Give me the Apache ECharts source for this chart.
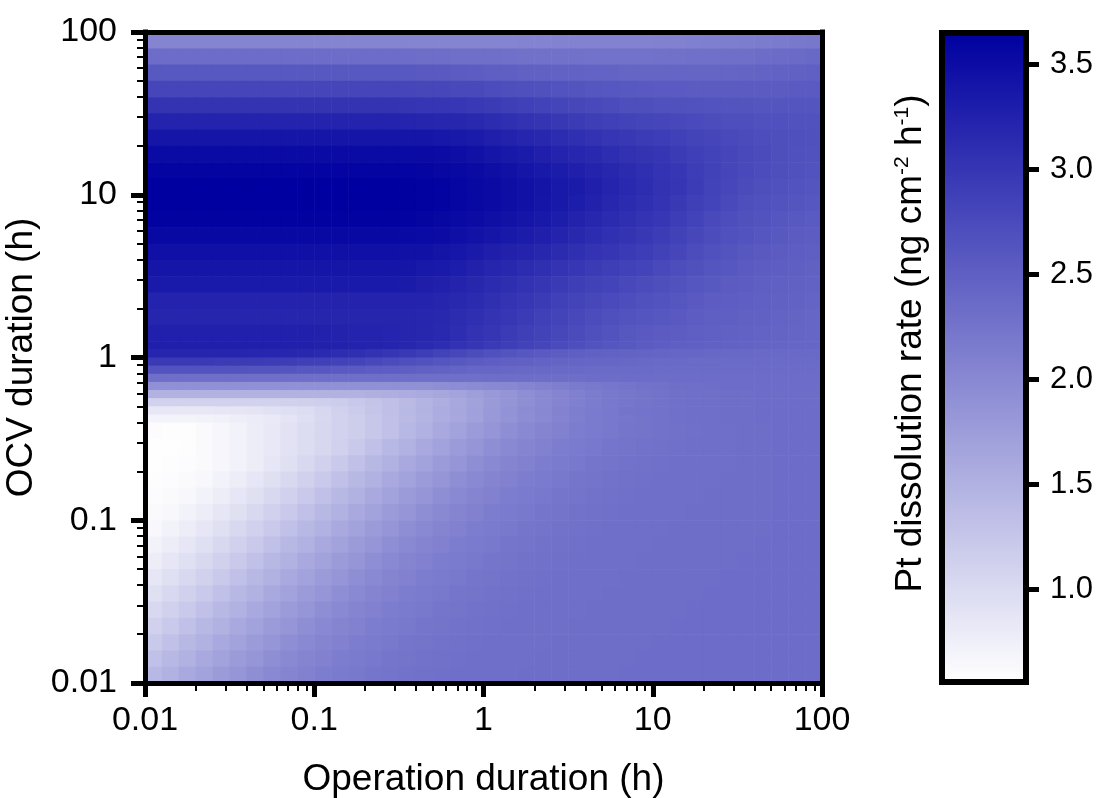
<!DOCTYPE html>
<html>
<head>
<meta charset="utf-8">
<title>Pt dissolution rate map</title>
<script src="https://cdn.jsdelivr.net/npm/echarts@6/dist/echarts.min.js"></script>
<style>
  html, body { margin: 0; padding: 0; background: #fff; }
  #main { width: 1102px; height: 798px; }
</style>
</head>
<body>
<div id="main"></div>
<script>
// cell edges as log10 of the duration in hours
var opEdgeExp = [-2, -1.9, -1.8, -1.7, -1.6, -1.5, -1.4, -1.3, -1.2, -1.1, -1, -0.9, -0.8, -0.7, -0.6, -0.5, -0.4, -0.3, -0.2, -0.1,
  0, 0.1, 0.2, 0.3, 0.4, 0.5, 0.6, 0.7, 0.8, 0.9, 1, 1.1, 1.2, 1.3, 1.4, 1.5, 1.6, 1.7, 1.8, 1.9, 2];
var ocvEdgeExp = [2, 1.9, 1.8, 1.7, 1.6, 1.5, 1.4, 1.3, 1.2, 1.1, 1, 0.9, 0.8, 0.7, 0.6, 0.5, 0.4, 0.3, 0.2, 0.1,
  0.05, 0, -0.05, -0.1, -0.15, -0.2, -0.25, -0.3, -0.35, -0.4,
  -0.5, -0.6, -0.7, -0.8, -0.9, -1, -1.1, -1.2, -1.3, -1.4, -1.5, -1.6, -1.7, -1.8, -1.9, -2];

// Pt dissolution rate (ng cm-2 h-1): one row per OCV band (top first), 40 operation bands per row
var rateTop = [
  [2.05,2.05,2.05,2.05,2.05,2.05,2.05,2.05,2.05,2.05,2.05,2.05,2.05,2.05,2.05,2.05,2.05,2.05,2.05,2.05,2.05,2.05,2.06,2.06,2.07,2.07,2.07,2.07,2.08,2.08,2.09,2.09,2.10,2.11,2.12,2.13,2.15,2.17,2.19,2.21],
  [2.33,2.33,2.33,2.33,2.33,2.33,2.33,2.33,2.33,2.33,2.33,2.33,2.33,2.33,2.33,2.33,2.32,2.32,2.31,2.31,2.30,2.29,2.28,2.28,2.28,2.28,2.27,2.27,2.27,2.27,2.28,2.28,2.29,2.29,2.30,2.31,2.33,2.35,2.37,2.39],
  [2.58,2.58,2.58,2.58,2.58,2.58,2.58,2.58,2.58,2.58,2.58,2.58,2.58,2.58,2.58,2.58,2.57,2.57,2.55,2.54,2.51,2.50,2.48,2.48,2.46,2.46,2.45,2.45,2.43,2.43,2.43,2.43,2.43,2.43,2.43,2.44,2.45,2.46,2.47,2.49],
  [2.80,2.80,2.80,2.80,2.80,2.80,2.80,2.80,2.80,2.80,2.80,2.80,2.80,2.80,2.80,2.80,2.79,2.79,2.77,2.76,2.73,2.71,2.69,2.67,2.65,2.63,2.61,2.59,2.58,2.57,2.56,2.56,2.55,2.55,2.55,2.55,2.55,2.55,2.56,2.56],
  [3.02,3.02,3.02,3.02,3.02,3.02,3.02,3.02,3.02,3.02,3.02,3.02,3.02,3.02,3.02,3.01,3.00,2.99,2.98,2.96,2.93,2.90,2.87,2.84,2.81,2.79,2.76,2.74,2.71,2.70,2.68,2.67,2.66,2.64,2.63,2.63,2.62,2.62,2.62,2.62],
  [3.22,3.22,3.22,3.22,3.22,3.22,3.22,3.22,3.22,3.22,3.22,3.22,3.22,3.22,3.22,3.21,3.20,3.19,3.18,3.15,3.12,3.08,3.05,3.01,2.97,2.93,2.90,2.87,2.84,2.81,2.80,2.78,2.75,2.73,2.71,2.70,2.68,2.68,2.66,2.66],
  [3.40,3.40,3.40,3.40,3.40,3.40,3.40,3.40,3.40,3.40,3.40,3.40,3.40,3.40,3.40,3.40,3.39,3.37,3.35,3.32,3.28,3.24,3.20,3.16,3.12,3.08,3.04,3.00,2.97,2.94,2.91,2.87,2.83,2.80,2.77,2.74,2.72,2.70,2.69,2.67],
  [3.53,3.53,3.53,3.53,3.53,3.53,3.53,3.53,3.53,3.53,3.53,3.53,3.53,3.53,3.53,3.53,3.52,3.50,3.48,3.45,3.40,3.36,3.32,3.28,3.23,3.19,3.15,3.11,3.06,3.02,2.99,2.94,2.89,2.84,2.80,2.77,2.74,2.71,2.68,2.66],
  [3.60,3.60,3.60,3.60,3.60,3.60,3.60,3.60,3.60,3.60,3.60,3.60,3.60,3.60,3.60,3.60,3.59,3.57,3.55,3.52,3.48,3.44,3.40,3.36,3.31,3.27,3.22,3.18,3.13,3.08,3.03,2.98,2.91,2.86,2.80,2.76,2.73,2.70,2.67,2.65],
  [3.65,3.65,3.65,3.65,3.65,3.65,3.65,3.65,3.65,3.65,3.65,3.65,3.65,3.65,3.65,3.64,3.63,3.61,3.58,3.55,3.52,3.48,3.45,3.41,3.36,3.32,3.27,3.21,3.15,3.10,3.05,2.99,2.92,2.85,2.79,2.74,2.71,2.68,2.65,2.62],
  [3.65,3.65,3.65,3.65,3.65,3.65,3.65,3.65,3.65,3.65,3.65,3.65,3.65,3.65,3.65,3.64,3.63,3.61,3.58,3.55,3.52,3.48,3.44,3.40,3.35,3.30,3.25,3.19,3.13,3.08,3.03,2.96,2.89,2.82,2.76,2.71,2.68,2.65,2.62,2.59],
  [3.62,3.62,3.62,3.62,3.62,3.62,3.62,3.62,3.62,3.62,3.62,3.62,3.62,3.62,3.62,3.61,3.59,3.57,3.54,3.50,3.47,3.43,3.39,3.35,3.30,3.24,3.19,3.13,3.08,3.03,2.98,2.91,2.84,2.77,2.72,2.67,2.64,2.61,2.58,2.56],
  [3.55,3.55,3.55,3.55,3.55,3.55,3.55,3.55,3.55,3.55,3.55,3.55,3.55,3.55,3.55,3.54,3.53,3.50,3.47,3.43,3.39,3.35,3.31,3.27,3.22,3.17,3.12,3.07,3.02,2.97,2.92,2.86,2.79,2.73,2.68,2.64,2.61,2.58,2.55,2.53],
  [3.46,3.46,3.46,3.46,3.46,3.46,3.46,3.46,3.46,3.46,3.46,3.46,3.46,3.46,3.46,3.45,3.44,3.41,3.38,3.34,3.29,3.25,3.22,3.18,3.13,3.08,3.03,2.99,2.95,2.91,2.86,2.80,2.73,2.68,2.63,2.60,2.57,2.55,2.52,2.50],
  [3.40,3.40,3.40,3.40,3.40,3.40,3.40,3.40,3.40,3.40,3.40,3.40,3.40,3.40,3.40,3.39,3.36,3.33,3.30,3.25,3.20,3.16,3.12,3.08,3.03,2.98,2.94,2.90,2.86,2.82,2.77,2.72,2.67,2.62,2.59,2.56,2.54,2.52,2.50,2.48],
  [3.33,3.33,3.33,3.33,3.33,3.33,3.33,3.33,3.33,3.33,3.33,3.33,3.33,3.33,3.33,3.32,3.29,3.26,3.22,3.18,3.13,3.09,3.04,3.00,2.95,2.90,2.86,2.82,2.78,2.74,2.70,2.66,2.61,2.58,2.55,2.53,2.51,2.49,2.48,2.46],
  [3.23,3.23,3.23,3.23,3.23,3.23,3.23,3.23,3.23,3.23,3.23,3.23,3.23,3.23,3.23,3.23,3.22,3.20,3.17,3.13,3.08,3.03,2.98,2.93,2.88,2.83,2.79,2.75,2.72,2.68,2.65,2.61,2.57,2.54,2.52,2.50,2.49,2.47,2.46,2.44],
  [3.20,3.20,3.20,3.20,3.20,3.20,3.20,3.20,3.20,3.20,3.20,3.20,3.20,3.20,3.20,3.20,3.19,3.16,3.12,3.08,3.03,2.98,2.93,2.88,2.83,2.78,2.73,2.69,2.65,2.62,2.59,2.57,2.54,2.51,2.50,2.48,2.47,2.45,2.44,2.42],
  [3.26,3.26,3.26,3.26,3.26,3.26,3.26,3.26,3.26,3.26,3.25,3.24,3.23,3.22,3.21,3.20,3.18,3.15,3.10,3.04,2.99,2.94,2.89,2.84,2.79,2.74,2.69,2.65,2.60,2.57,2.55,2.53,2.51,2.49,2.48,2.46,2.45,2.44,2.43,2.42]
];

// the sharp step just below OCV = 1 h
var rateStep = [
  [3.28,3.28,3.28,3.28,3.28,3.28,3.27,3.27,3.26,3.26,3.25,3.25,3.24,3.22,3.21,3.18,3.14,3.10,3.05,3.00,2.95,2.90,2.85,2.80,2.75,2.70,2.65,2.61,2.58,2.55,2.52,2.50,2.49,2.47,2.46,2.45,2.44,2.43,2.42,2.42],
  [3.20,3.20,3.20,3.20,3.20,3.20,3.19,3.19,3.18,3.16,3.14,3.11,3.08,3.04,3.00,2.96,2.91,2.85,2.79,2.73,2.68,2.63,2.59,2.56,2.53,2.50,2.48,2.46,2.45,2.44,2.43,2.42,2.41,2.40,2.39,2.39,2.38,2.38,2.38,2.38],
  [2.95,2.95,2.95,2.95,2.94,2.94,2.93,2.92,2.91,2.89,2.87,2.85,2.82,2.78,2.74,2.70,2.66,2.62,2.58,2.55,2.52,2.49,2.47,2.45,2.44,2.43,2.42,2.41,2.40,2.39,2.38,2.38,2.37,2.37,2.36,2.36,2.36,2.36,2.36,2.36],
  [2.65,2.65,2.65,2.65,2.64,2.64,2.63,2.63,2.62,2.60,2.59,2.57,2.56,2.54,2.52,2.50,2.48,2.46,2.44,2.42,2.41,2.40,2.39,2.39,2.38,2.38,2.37,2.37,2.36,2.36,2.35,2.35,2.35,2.35,2.34,2.34,2.34,2.34,2.34,2.34],
  [2.30,2.30,2.30,2.30,2.30,2.30,2.30,2.30,2.30,2.30,2.30,2.30,2.30,2.30,2.30,2.30,2.30,2.31,2.31,2.31,2.32,2.32,2.32,2.32,2.32,2.32,2.33,2.33,2.33,2.33,2.33,2.33,2.33,2.33,2.33,2.33,2.33,2.33,2.33,2.33],
  [1.90,1.90,1.90,1.90,1.90,1.90,1.90,1.90,1.90,1.90,1.90,1.90,1.90,1.90,1.90,1.90,1.91,1.93,1.94,1.96,1.99,2.02,2.05,2.09,2.12,2.16,2.19,2.22,2.25,2.27,2.28,2.30,2.31,2.32,2.33,2.33,2.33,2.33,2.33,2.33],
  [1.50,1.50,1.50,1.50,1.50,1.50,1.50,1.50,1.50,1.50,1.50,1.50,1.51,1.53,1.54,1.56,1.59,1.63,1.68,1.73,1.80,1.86,1.93,1.99,2.05,2.10,2.15,2.19,2.22,2.25,2.27,2.29,2.30,2.31,2.32,2.32,2.33,2.33,2.33,2.33],
  [1.10,1.10,1.10,1.10,1.10,1.10,1.10,1.11,1.12,1.13,1.15,1.18,1.23,1.28,1.34,1.40,1.47,1.54,1.62,1.70,1.78,1.86,1.93,1.99,2.05,2.10,2.15,2.19,2.22,2.25,2.27,2.29,2.30,2.31,2.32,2.32,2.33,2.33,2.33,2.33],
  [0.85,0.85,0.85,0.85,0.86,0.87,0.89,0.92,0.95,0.99,1.05,1.12,1.19,1.26,1.33,1.41,1.48,1.56,1.63,1.71,1.80,1.88,1.95,2.01,2.07,2.12,2.17,2.20,2.24,2.26,2.27,2.29,2.30,2.31,2.32,2.32,2.33,2.33,2.33,2.33],
  [0.70,0.70,0.71,0.72,0.73,0.76,0.79,0.83,0.89,0.95,1.03,1.10,1.17,1.24,1.32,1.40,1.47,1.55,1.62,1.70,1.79,1.87,1.94,2.00,2.06,2.11,2.16,2.20,2.22,2.25,2.27,2.29,2.30,2.31,2.32,2.32,2.33,2.33,2.33,2.33]
];

// short OCV: white pocket and diagonal bands
var rateLow = [
  [0.60,0.58,0.59,0.62,0.67,0.72,0.78,0.84,0.91,0.97,1.04,1.11,1.17,1.24,1.32,1.42,1.50,1.60,1.69,1.77,1.85,1.93,1.99,2.05,2.09,2.13,2.17,2.20,2.23,2.25,2.27,2.28,2.29,2.30,2.31,2.32,2.32,2.33,2.33,2.33],
  [0.57,0.57,0.59,0.62,0.67,0.72,0.78,0.84,0.91,0.97,1.04,1.12,1.22,1.32,1.42,1.50,1.60,1.69,1.77,1.85,1.93,1.99,2.05,2.09,2.13,2.17,2.20,2.23,2.25,2.27,2.28,2.29,2.30,2.30,2.31,2.32,2.32,2.33,2.33,2.33],
  [0.57,0.58,0.60,0.62,0.67,0.72,0.78,0.86,0.94,1.03,1.12,1.22,1.32,1.42,1.50,1.60,1.69,1.77,1.85,1.93,1.99,2.05,2.09,2.13,2.17,2.20,2.23,2.25,2.27,2.28,2.29,2.30,2.30,2.31,2.31,2.32,2.32,2.33,2.33,2.33],
  [0.58,0.60,0.62,0.66,0.72,0.78,0.86,0.94,1.03,1.12,1.22,1.32,1.42,1.50,1.60,1.69,1.77,1.85,1.93,1.99,2.05,2.09,2.13,2.17,2.20,2.23,2.25,2.27,2.28,2.29,2.30,2.30,2.31,2.31,2.32,2.32,2.32,2.33,2.33,2.33],
  [0.60,0.62,0.66,0.72,0.78,0.86,0.94,1.03,1.12,1.22,1.32,1.42,1.50,1.60,1.69,1.77,1.85,1.93,1.99,2.05,2.09,2.13,2.17,2.20,2.23,2.25,2.27,2.28,2.29,2.30,2.30,2.31,2.31,2.32,2.32,2.32,2.32,2.33,2.33,2.33],
  [0.62,0.66,0.72,0.78,0.86,0.94,1.03,1.12,1.22,1.32,1.42,1.50,1.60,1.69,1.77,1.85,1.93,1.99,2.05,2.09,2.13,2.17,2.20,2.23,2.25,2.27,2.28,2.29,2.30,2.30,2.31,2.31,2.32,2.32,2.32,2.32,2.32,2.33,2.33,2.33],
  [0.66,0.72,0.78,0.86,0.94,1.03,1.12,1.22,1.32,1.42,1.50,1.60,1.69,1.77,1.85,1.93,1.99,2.05,2.09,2.13,2.17,2.20,2.23,2.25,2.27,2.28,2.29,2.30,2.30,2.31,2.31,2.32,2.32,2.32,2.32,2.32,2.32,2.33,2.33,2.33],
  [0.72,0.78,0.86,0.94,1.03,1.12,1.22,1.32,1.42,1.50,1.60,1.69,1.77,1.85,1.93,1.99,2.05,2.09,2.13,2.17,2.20,2.23,2.25,2.27,2.28,2.29,2.30,2.30,2.31,2.31,2.32,2.32,2.32,2.32,2.32,2.32,2.33,2.33,2.33,2.33],
  [0.78,0.86,0.94,1.03,1.12,1.22,1.32,1.42,1.50,1.60,1.69,1.77,1.85,1.93,1.99,2.05,2.09,2.13,2.17,2.20,2.23,2.25,2.27,2.28,2.29,2.30,2.30,2.31,2.31,2.32,2.32,2.32,2.32,2.32,2.32,2.33,2.33,2.33,2.33,2.33],
  [0.86,0.94,1.03,1.12,1.22,1.32,1.42,1.50,1.60,1.69,1.77,1.85,1.93,1.99,2.05,2.09,2.13,2.17,2.20,2.23,2.25,2.27,2.28,2.29,2.30,2.30,2.31,2.31,2.32,2.32,2.32,2.32,2.32,2.32,2.33,2.33,2.33,2.33,2.33,2.33],
  [0.94,1.03,1.12,1.22,1.32,1.42,1.50,1.60,1.69,1.77,1.85,1.93,1.99,2.05,2.09,2.13,2.17,2.20,2.23,2.25,2.27,2.28,2.29,2.30,2.30,2.31,2.31,2.32,2.32,2.32,2.32,2.32,2.32,2.33,2.33,2.33,2.33,2.33,2.33,2.33],
  [1.03,1.12,1.22,1.32,1.42,1.50,1.60,1.69,1.77,1.85,1.93,1.99,2.05,2.09,2.13,2.17,2.20,2.23,2.25,2.27,2.28,2.29,2.30,2.30,2.31,2.31,2.32,2.32,2.32,2.32,2.32,2.32,2.33,2.33,2.33,2.33,2.33,2.33,2.33,2.33],
  [1.12,1.22,1.32,1.42,1.50,1.60,1.69,1.77,1.85,1.93,1.99,2.05,2.09,2.13,2.17,2.20,2.23,2.25,2.27,2.28,2.29,2.30,2.30,2.31,2.31,2.32,2.32,2.32,2.32,2.32,2.32,2.33,2.33,2.33,2.33,2.33,2.33,2.33,2.33,2.33],
  [1.22,1.32,1.42,1.50,1.60,1.69,1.77,1.85,1.93,1.99,2.05,2.09,2.13,2.17,2.20,2.23,2.25,2.27,2.28,2.29,2.30,2.30,2.31,2.31,2.32,2.32,2.32,2.32,2.32,2.32,2.33,2.33,2.33,2.33,2.33,2.33,2.33,2.33,2.33,2.33],
  [1.32,1.42,1.50,1.60,1.69,1.77,1.85,1.93,1.99,2.05,2.09,2.13,2.17,2.20,2.23,2.25,2.27,2.28,2.29,2.30,2.30,2.31,2.31,2.32,2.32,2.32,2.32,2.32,2.32,2.33,2.33,2.33,2.33,2.33,2.33,2.33,2.33,2.33,2.33,2.33],
  [1.42,1.50,1.60,1.69,1.77,1.85,1.93,1.99,2.05,2.09,2.13,2.17,2.20,2.23,2.25,2.27,2.28,2.29,2.30,2.30,2.31,2.31,2.32,2.32,2.32,2.32,2.32,2.32,2.33,2.33,2.33,2.33,2.33,2.33,2.33,2.33,2.33,2.33,2.33,2.33]
];

var decadeTicks = [0.01, 0.1, 1, 10, 100];
var minorSteps = [2, 3, 4, 5, 6, 7, 8, 9];
var barTicks = [1.0, 1.5, 2.0, 2.5, 3.0, 3.5];
var rateMin = 0.56;
var rateMax = 3.65;
var rampColors = ['#ffffff', '#0000a0'];

var FONT = 'Liberation Sans, Arial, sans-serif';

var rate = rateTop.concat(rateStep, rateLow);

// minor ticks 2..9 inside each decade
var minorTicks = [];
decadeTicks.slice(0, -1).forEach(function (d) {
  minorSteps.forEach(function (s) { minorTicks.push(+(d * s).toPrecision(6)); });
});

// one rect per band: [opFrom, opTo, ocvFrom, ocvTo, rate]
var cells = [];
for (var i = 0; i < rate.length; i++) {
  for (var j = 0; j < rate[i].length; j++) {
    cells.push([
      Math.pow(10, opEdgeExp[j]), Math.pow(10, opEdgeExp[j + 1]),
      Math.pow(10, ocvEdgeExp[i + 1]), Math.pow(10, ocvEdgeExp[i]),
      rate[i][j]
    ]);
  }
}

function fmtLog(v) { return String(+v.toPrecision(6)); }

var noShow = { show: false };

function frameAxis(grid, pos, type, min, max, width) {
  return {
    gridIndex: grid, type: type, position: pos, min: min, max: max, z: 5,
    axisLine: { show: true, onZero: false, lineStyle: { color: '#000', width: width, cap: 'square' } },
    axisTick: noShow, axisLabel: noShow, splitLine: noShow
  };
}

function logAxis(pos, extra) {
  var ax = {
    gridIndex: 0, type: 'log', logBase: 10, min: 0.01, max: 100, position: pos, z: 5,
    axisLine: { show: true, onZero: false, lineStyle: { color: '#000', width: 5, cap: 'square' } },
    axisTick: { show: true, inside: false, length: 14, lineStyle: { color: '#000', width: 5 } },
    axisLabel: { fontSize: 34, color: '#000', fontFamily: FONT, formatter: fmtLog },
    splitLine: noShow
  };
  for (var k in extra) ax[k] = extra[k];
  return ax;
}

function minorAxis(pos) {
  return {
    gridIndex: 0, type: 'log', logBase: 10, min: 0.01, max: 100, position: pos, z: 5,
    axisLine: noShow, axisLabel: noShow, splitLine: noShow,
    axisTick: { show: true, inside: false, length: 8, customValues: minorTicks, lineStyle: { color: '#000', width: 2 } }
  };
}

var myChart = echarts.init(document.getElementById('main'));
var xMain = logAxis('bottom', {
  name: 'Operation duration (h)', nameLocation: 'middle', nameGap: 78,
  nameTextStyle: { fontSize: 37, color: '#000', fontFamily: FONT }
});
xMain.axisLabel.margin = 21;
var yMain = logAxis('left', {
  name: 'OCV duration (h)', nameLocation: 'middle', nameGap: 95, nameRotate: 90,
  nameTextStyle: { fontSize: 37, color: '#000', fontFamily: FONT }
});
yMain.axisLabel.margin = 28;

var option = {
  animation: false,
  grid: [
    { left: 145, right: 280, top: 32, bottom: 115, containLabel: false, outerBoundsMode: 'none' },
    { left: 942, right: 76, top: 33, bottom: 116, containLabel: false, outerBoundsMode: 'none' }
  ],
  visualMap: {
    type: 'continuous', show: false, seriesIndex: 0, dimension: 4,
    min: rateMin, max: rateMax,
    inRange: { color: rampColors }
  },
  xAxis: [
    xMain,
    minorAxis('bottom'),
    frameAxis(0, 'top', 'log', 0.01, 100, 5),
    frameAxis(1, 'bottom', 'value', 0, 1, 6),
    frameAxis(1, 'top', 'value', 0, 1, 6)
  ],
  yAxis: [
    yMain,
    minorAxis('left'),
    frameAxis(0, 'right', 'log', 0.01, 100, 5),
    {
      gridIndex: 1, type: 'value', min: rateMin, max: rateMax, position: 'right', z: 5,
      axisLine: { show: true, onZero: false, lineStyle: { color: '#000', width: 6, cap: 'square' } },
      axisTick: { show: true, inside: false, length: 13, customValues: barTicks, lineStyle: { color: '#000', width: 5 } },
      axisLabel: {
        fontSize: 31, color: '#000', fontFamily: FONT, margin: 24, customValues: barTicks,
        formatter: function (v) { return v.toFixed(1); }
      },
      splitLine: noShow
    },
    {
      gridIndex: 1, type: 'value', min: rateMin, max: rateMax, position: 'left', z: 5,
      name: 'Pt dissolution rate (ng cm{sup|-2} h{sup|-1})',
      nameLocation: 'middle', nameGap: 13, nameRotate: 90,
      nameTextStyle: {
        fontSize: 37, color: '#000', fontFamily: FONT, padding: [0, 0, 0, 28],
        rich: { sup: { fontSize: 21, color: '#000', fontFamily: FONT, verticalAlign: 'top' } }
      },
      axisLine: { show: true, onZero: false, lineStyle: { color: '#000', width: 6, cap: 'square' } },
      axisTick: noShow, axisLabel: noShow, splitLine: noShow
    }
  ],
  series: [
    {
      type: 'custom',
      xAxisIndex: 0, yAxisIndex: 0,
      data: cells,
      encode: { x: [0, 1], y: [2, 3] },
      clip: true, silent: true, z: 1,
      renderItem: function (params, api) {
        var p0 = api.coord([api.value(0), api.value(3)]);
        var p1 = api.coord([api.value(1), api.value(2)]);
        return {
          type: 'rect',
          shape: { x: p0[0], y: p0[1], width: p1[0] - p0[0] + 0.6, height: p1[1] - p0[1] + 0.6 },
          style: { fill: api.visual('color') }
        };
      }
    },
    {
      type: 'custom',
      xAxisIndex: 3, yAxisIndex: 3,
      data: [[0, 1, rateMin, rateMax]],
      encode: { x: [0, 1], y: [2, 3] },
      silent: true, z: 1,
      renderItem: function (params, api) {
        var p0 = api.coord([api.value(0), api.value(3)]);
        var p1 = api.coord([api.value(1), api.value(2)]);
        return {
          type: 'rect',
          shape: { x: p0[0], y: p0[1], width: p1[0] - p0[0], height: p1[1] - p0[1] },
          style: {
            fill: new echarts.graphic.LinearGradient(0, 0, 0, 1, [
              { offset: 0, color: rampColors[1] },
              { offset: 1, color: rampColors[0] }
            ])
          }
        };
      }
    }
  ]
};
if (option && typeof option === 'object') {
  myChart.setOption(option, true);
}
</script>
</body>
</html>
